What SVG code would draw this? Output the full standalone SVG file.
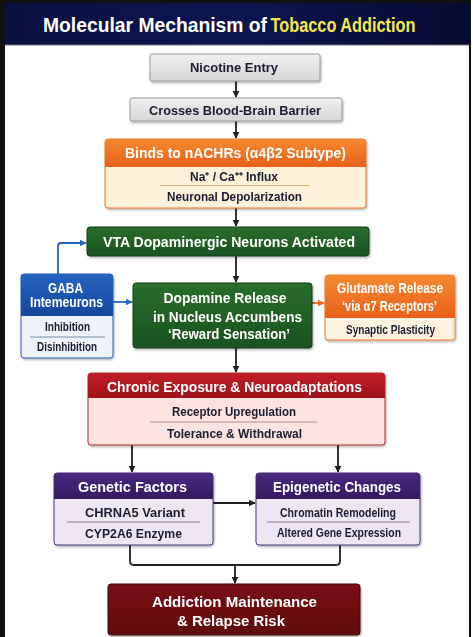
<svg xmlns="http://www.w3.org/2000/svg" width="473" height="637" viewBox="0 0 473 637">
<defs>
<linearGradient id="gTitle" x1="0" y1="0" x2="1" y2="0"><stop offset="0" stop-color="#0a1040"/><stop offset="0.5" stop-color="#0c1550"/><stop offset="1" stop-color="#070b30"/></linearGradient>
<linearGradient id="gGray" x1="0" y1="0" x2="0" y2="1"><stop offset="0" stop-color="#f0f0f0"/><stop offset="1" stop-color="#d6d6d6"/></linearGradient>
<linearGradient id="gOrange" x1="0" y1="0" x2="0" y2="1"><stop offset="0" stop-color="#f58a30"/><stop offset="1" stop-color="#e8601a"/></linearGradient>
<linearGradient id="gGreen" x1="0" y1="0" x2="0" y2="1"><stop offset="0" stop-color="#2a6e2c"/><stop offset="1" stop-color="#1a5220"/></linearGradient>
<linearGradient id="gBlue" x1="0" y1="0" x2="0" y2="1"><stop offset="0" stop-color="#2563c0"/><stop offset="1" stop-color="#17479c"/></linearGradient>
<linearGradient id="gRed" x1="0" y1="0" x2="0" y2="1"><stop offset="0" stop-color="#c02028"/><stop offset="1" stop-color="#a0141c"/></linearGradient>
<linearGradient id="gPurple" x1="0" y1="0" x2="0" y2="1"><stop offset="0" stop-color="#4a2a80"/><stop offset="1" stop-color="#341a62"/></linearGradient>
<linearGradient id="gMaroon" x1="0" y1="0" x2="0" y2="1"><stop offset="0" stop-color="#7a1014"/><stop offset="1" stop-color="#5e080c"/></linearGradient>
<filter id="sh" x="-10%" y="-10%" width="120%" height="130%"><feDropShadow dx="1" dy="1.5" stdDeviation="1.2" flood-color="#000" flood-opacity="0.3"/></filter>
<marker id="aK" viewBox="0 0 10 10" refX="9" refY="5" markerWidth="4" markerHeight="4" orient="auto-start-reverse" markerUnits="strokeWidth"><path d="M0,0 L10,5 L0,10 z" fill="#1e1e24"/></marker>
<marker id="aB" viewBox="0 0 10 10" refX="9" refY="5" markerWidth="4" markerHeight="4" orient="auto" markerUnits="strokeWidth"><path d="M0,0 L10,5 L0,10 z" fill="#2566c4"/></marker>
<marker id="aO" viewBox="0 0 10 10" refX="9" refY="5" markerWidth="4" markerHeight="4" orient="auto" markerUnits="strokeWidth"><path d="M0,0 L10,5 L0,10 z" fill="#ee6a24"/></marker>
</defs>
<style>
text{font-family:"Liberation Sans",Arial,sans-serif;font-weight:bold;text-anchor:middle}
.dk{fill:#1c1c30;font-size:13px}
.sm{fill:#1c1c30;font-size:12px}
.wh{fill:#ffffff;font-size:14px}
.ln{stroke:#1e1e24;stroke-width:1.8;fill:none}
.sep{stroke-width:1;fill:none}
</style>
<rect x="0" y="0" width="473" height="637" fill="#ffffff"/>
<rect x="0" y="0" width="471" height="637" fill="#111111"/>
<rect x="5" y="45" width="464" height="592" fill="#ffffff"/>
<rect x="5" y="3" width="464" height="42" fill="url(#gTitle)"/>
<line x1="5" y1="45" x2="469" y2="45" stroke="#777" stroke-width="1"/>
<text x="155" y="32" fill="#ffffff" font-size="21" textLength="224" lengthAdjust="spacingAndGlyphs">Molecular Mechanism of</text>
<text x="343" y="32" fill="#f6e84a" font-size="21" textLength="145" lengthAdjust="spacingAndGlyphs">Tobacco Addiction</text>

<g id="connectors">
<line class="ln" x1="236" y1="81" x2="236" y2="97" marker-end="url(#aK)"/>
<line class="ln" x1="236" y1="121" x2="236" y2="138" marker-end="url(#aK)"/>
<line class="ln" x1="236" y1="208" x2="236" y2="226" marker-end="url(#aK)"/>
<line class="ln" x1="236" y1="256" x2="236" y2="282" marker-end="url(#aK)"/>
<line class="ln" x1="236" y1="348" x2="236" y2="372" marker-end="url(#aK)"/>
<path d="M58,274 V246 Q58,243 61,243 H86" stroke="#2566c4" stroke-width="1.8" fill="none" marker-end="url(#aB)"/>
<line x1="113" y1="302" x2="132" y2="302" stroke="#2566c4" stroke-width="1.8" marker-end="url(#aB)"/>
<line x1="312" y1="303" x2="324" y2="303" stroke="#ee6a24" stroke-width="1.8" marker-end="url(#aO)"/>
<line class="ln" x1="132" y1="445" x2="132" y2="472" marker-end="url(#aK)"/>
<line class="ln" x1="338" y1="445" x2="338" y2="472" marker-end="url(#aK)"/>
<line class="ln" x1="213" y1="503" x2="255" y2="503" marker-end="url(#aK)"/>
<path class="ln" d="M130,545 V561 Q130,565 134,565 H336 Q340,565 340,561 V545"/>
<line class="ln" x1="235" y1="565" x2="235" y2="583" marker-end="url(#aK)"/>
</g>

<g id="nicotine" filter="url(#sh)">
<rect x="150" y="54" width="170" height="27" rx="2" fill="url(#gGray)" stroke="#9a9a9a"/>
<text class="dk" x="234" y="72" textLength="88" lengthAdjust="spacingAndGlyphs">Nicotine Entry</text>
</g>

<g id="bbb" filter="url(#sh)">
<rect x="130" y="98" width="212" height="23" rx="2" fill="url(#gGray)" stroke="#9a9a9a"/>
<text class="dk" x="235" y="115" textLength="172" lengthAdjust="spacingAndGlyphs">Crosses Blood-Brain Barrier</text>
</g>

<g id="binds" filter="url(#sh)">
<rect x="105" y="139" width="261" height="69" rx="3" fill="#fdf1da" stroke="#e8742c"/>
<path d="M105,167 V142 Q105,139 108,139 H363 Q366,139 366,142 V167 Z" fill="url(#gOrange)"/>
<text class="wh" x="235.5" y="158" textLength="221" lengthAdjust="spacingAndGlyphs">Binds to nACHRs (α4β2 Subtype)</text>
<text class="sm" x="234" y="181" textLength="88" lengthAdjust="spacingAndGlyphs">Na⁺ / Ca⁺⁺ Influx</text>
<line class="sep" x1="160" y1="185.5" x2="310" y2="185.5" stroke="#e0b070"/>
<text class="sm" x="234.5" y="201" textLength="135" lengthAdjust="spacingAndGlyphs">Neuronal Depolarization</text>
</g>

<g id="vta" filter="url(#sh)">
<rect x="87" y="227" width="282" height="29" rx="3" fill="url(#gGreen)" stroke="#123e16"/>
<text class="wh" x="229" y="247" font-size="15" textLength="252" lengthAdjust="spacingAndGlyphs">VTA Dopaminergic Neurons Activated</text>
</g>

<g id="gaba" filter="url(#sh)">
<rect x="21" y="274" width="92" height="84" rx="3" fill="#eef3fb" stroke="#2a5cb4"/>
<path d="M21,316 V277 Q21,274 24,274 H110 Q113,274 113,277 V316 Z" fill="url(#gBlue)"/>
<text class="wh" x="65.5" y="292.5" font-size="12" textLength="35" lengthAdjust="spacingAndGlyphs">GABA</text>
<text class="wh" x="66.5" y="307" font-size="12" textLength="73" lengthAdjust="spacingAndGlyphs">Intemeurons</text>
<text class="sm" x="67.5" y="331" font-size="11" textLength="45" lengthAdjust="spacingAndGlyphs">Inhibition</text>
<line class="sep" x1="30" y1="337" x2="105" y2="337" stroke="#7a8aa8"/>
<text class="sm" x="67" y="351" font-size="11" textLength="60" lengthAdjust="spacingAndGlyphs">Disinhibition</text>
</g>

<g id="dopamine" filter="url(#sh)">
<rect x="133" y="283" width="179" height="65" rx="3" fill="url(#gGreen)" stroke="#123e16"/>
<text class="wh" x="225" y="303" font-size="15" textLength="123" lengthAdjust="spacingAndGlyphs">Dopamine Release</text>
<text class="wh" x="227.5" y="322" font-size="15" textLength="149" lengthAdjust="spacingAndGlyphs">in Nucleus Accumbens</text>
<text class="wh" x="229" y="339" textLength="122" lengthAdjust="spacingAndGlyphs">‘Reward Sensation’</text>
</g>

<g id="glutamate" filter="url(#sh)">
<rect x="325" y="275" width="130" height="65" rx="3" fill="#fdf3e0" stroke="#ee7a30"/>
<path d="M325,318 V278 Q325,275 328,275 H452 Q455,275 455,278 V318 Z" fill="url(#gOrange)"/>
<text class="wh" x="390" y="293" font-size="12.5" fill="#fff1dc" textLength="106" lengthAdjust="spacingAndGlyphs">Glutamate Release</text>
<text class="wh" x="389.5" y="311" font-size="12.5" fill="#fff1dc" textLength="95" lengthAdjust="spacingAndGlyphs">‘via α7 Receptors’</text>
<text class="sm" x="390.5" y="334" font-size="11.5" textLength="89" lengthAdjust="spacingAndGlyphs">Synaptic Plasticity</text>
</g>

<g id="chronic" filter="url(#sh)">
<rect x="88" y="373" width="297" height="72" rx="3" fill="#fbe4e0" stroke="#b8282e"/>
<path d="M88,398 V376 Q88,373 91,373 H382 Q385,373 385,376 V398 Z" fill="url(#gRed)"/>
<text class="wh" x="234.5" y="392" font-size="15" textLength="255" lengthAdjust="spacingAndGlyphs">Chronic Exposure &amp; Neuroadaptations</text>
<text class="sm" x="234" y="416" textLength="124" lengthAdjust="spacingAndGlyphs">Receptor Upregulation</text>
<line class="sep" x1="150" y1="422" x2="317" y2="422" stroke="#b09090"/>
<text class="sm" x="234.5" y="438" textLength="135" lengthAdjust="spacingAndGlyphs">Tolerance &amp; Withdrawal</text>
</g>

<g id="genetic" filter="url(#sh)">
<rect x="54" y="473" width="159" height="72" rx="3" fill="#ede7f3" stroke="#4a3478"/>
<path d="M54,499 V476 Q54,473 57,473 H210 Q213,473 213,476 V499 Z" fill="url(#gPurple)"/>
<text class="wh" x="132.5" y="492" font-size="15" textLength="109" lengthAdjust="spacingAndGlyphs">Genetic Factors</text>
<text class="dk" x="135" y="517" textLength="100" lengthAdjust="spacingAndGlyphs">CHRNA5 Variant</text>
<line class="sep" x1="67" y1="522" x2="200" y2="522" stroke="#8a7a9a"/>
<text class="dk" x="133.5" y="538" textLength="97" lengthAdjust="spacingAndGlyphs">CYP2A6 Enzyme</text>
</g>

<g id="epigenetic" filter="url(#sh)">
<rect x="256" y="473" width="164" height="72" rx="3" fill="#ede7f3" stroke="#4a3478"/>
<path d="M256,499 V476 Q256,473 259,473 H417 Q420,473 420,476 V499 Z" fill="url(#gPurple)"/>
<text class="wh" x="337" y="492" font-size="15" textLength="128" lengthAdjust="spacingAndGlyphs">Epigenetic Changes</text>
<text class="sm" x="338" y="517" textLength="116" lengthAdjust="spacingAndGlyphs">Chromatin Remodeling</text>
<line class="sep" x1="267" y1="522" x2="410" y2="522" stroke="#8a7a9a"/>
<text class="sm" x="339" y="537" textLength="124" lengthAdjust="spacingAndGlyphs">Altered Gene Expression</text>
</g>

<g id="addiction" filter="url(#sh)">
<rect x="108" y="584" width="252" height="51" rx="3" fill="url(#gMaroon)" stroke="#3e0608"/>
<text class="wh" x="234.5" y="607" font-size="16" textLength="165" lengthAdjust="spacingAndGlyphs">Addiction Maintenance</text>
<text class="wh" x="231" y="626" font-size="16" textLength="108" lengthAdjust="spacingAndGlyphs">&amp; Relapse Risk</text>
</g>
</svg>
